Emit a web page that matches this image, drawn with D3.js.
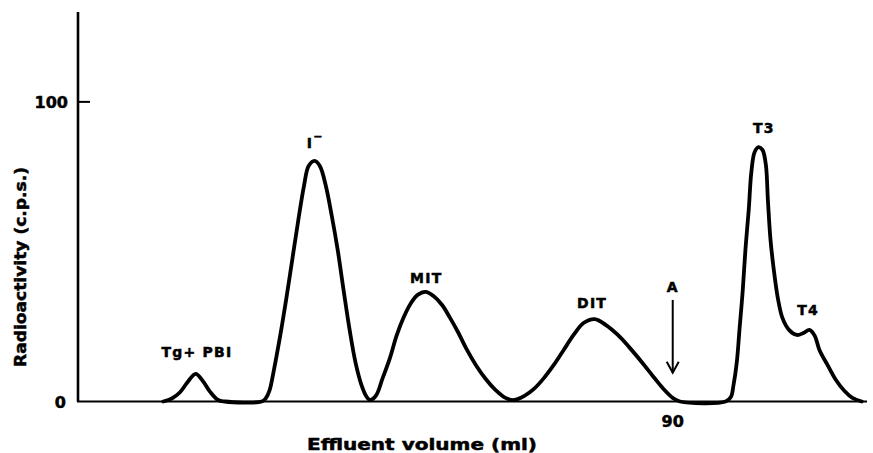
<!DOCTYPE html>
<html>
<head>
<meta charset="utf-8">
<script src="https://cdn.jsdelivr.net/npm/d3@7"></script>
<style>
  body { margin: 0; background: #fff; }
  text { font-family: "DejaVu Sans", sans-serif; font-weight: bold; fill: #000; stroke: #000; stroke-width: 0.5px; }
</style>
</head>
<body>
<div id="graph"></div>
<script>
// effluent volume (ml) and radioactivity (c.p.s.)
var volume = [
  12.9, 14.2, 15.4, 16.6, 17.8, 18.9, 20.0, 21.2, 22.2, 27.8,
  28.4, 29.0, 29.6, 30.6, 31.5, 32.4, 33.3, 34.2, 34.9, 35.8, 36.6, 37.5, 38.4, 39.3, 40.2, 41.1, 42.0, 42.9, 43.7, 44.2,
  45.1, 46.1, 47.2, 48.2, 49.3, 50.4, 51.4, 52.6, 53.8, 55.1, 56.3, 57.5, 58.7, 60.2, 61.7, 63.2, 64.7, 66.0,
  67.5, 69.0, 70.5, 72.0, 73.5, 75.0, 76.5, 78.2, 79.9, 81.7, 83.5, 85.3, 87.1, 88.6, 90.0, 91.1, 98.0,
  98.8, 99.2, 99.7, 100.1, 100.6, 101.0, 101.5, 101.9, 102.4, 103.0, 103.6, 104.1, 104.4, 104.8, 105.3, 105.9, 106.6, 107.6,
  108.8, 109.8, 110.7, 111.5, 112.2, 113.5, 114.7, 116.0, 117.2, 118.6
];
var counts = [
  0, 1.0, 3.0, 6.5, 9.2, 6.8, 3.2, 0.5, 0, 0,
  1.0, 3.8, 10, 22, 34, 47, 60, 72, 78.6, 80.3, 78.6, 72, 62, 50.6, 37, 24, 13, 5.5, 1.5, 0.5,
  2.0, 7.8, 14.5, 21.9, 28.2, 32.9, 35.6, 36.6, 35.2, 32.2, 27.9, 23.2, 17.9, 12.2, 7.5, 3.8, 1.2, 0.5,
  1.8, 4.2, 7.8, 12.2, 17.2, 22.2, 26.2, 27.5, 25.5, 22.2, 17.9, 13.2, 8.2, 4.2, 1.2, 0, 0,
  1.5, 5.5, 13.2, 23.9, 37.2, 50.6, 63.9, 76.6, 83.3, 84.9, 83.9, 78.9, 67.3, 53.9, 43.9, 34.6, 27.9, 23.9,
  22.2, 22.9, 23.9, 21.9, 17.2, 11.9, 7.2, 3.5, 1.2, 0
];

var yTicks = [0, 100];
var xTicks = [90];

// peak labels, anchored in data units
var peakNames = ["Tg+ PBI", "I", "MIT", "DIT", "A", "T3", "T4"];
var peakX = [18.0, 35.9, 52.7, 77.8, 90.0, 103.8, 110.5];
var peakY = [14.9, 84.6, 39.6, 31.2, 36.6, 89.6, 28.9];

var arrowX = 90;
var arrowFrom = 33.9;
var arrowTo = 9.6;

var width = 873;
var height = 453;

var x = d3.scaleLinear()
  .domain([0, 119.4])
  .range([78, 867]);

var y = d3.scaleLinear()
  .domain([0, 130])
  .range([401.5, 12]);

var svg = d3.select("#graph")
  .append("svg")
  .attr("width", width)
  .attr("height", height);

// axes
svg.append("line")
  .attr("x1", x(0)).attr("x2", x(0))
  .attr("y1", y(130)).attr("y2", y(0))
  .attr("stroke", "#000")
  .attr("stroke-width", 2.6);

svg.append("line")
  .attr("x1", x(0) - 1).attr("x2", x(119.4))
  .attr("y1", y(0)).attr("y2", y(0))
  .attr("stroke", "#000")
  .attr("stroke-width", 2.2);

svg.selectAll(".ytick")
  .data(yTicks.filter(d => d > 0))
  .enter().append("line")
  .attr("class", "ytick")
  .attr("x1", x(0)).attr("x2", x(0) + 12)
  .attr("y1", d => y(d)).attr("y2", d => y(d))
  .attr("stroke", "#000")
  .attr("stroke-width", 2);

svg.selectAll(".ylabel")
  .data(yTicks)
  .enter().append("text")
  .attr("class", "ylabel")
  .attr("x", d => d == 0 ? 66 : 68)
  .attr("y", d => y(d) + 6)
  .attr("text-anchor", "end")
  .style("font-size", "16px")
  .text(d => d);

svg.selectAll(".xlabel")
  .data(xTicks)
  .enter().append("text")
  .attr("class", "xlabel")
  .attr("x", d => x(d))
  .attr("y", 427)
  .attr("text-anchor", "middle")
  .style("font-size", "16px")
  .text(d => d);

svg.append("text")
  .attr("x", 307)
  .attr("y", 450)
  .attr("textLength", 230)
  .attr("lengthAdjust", "spacingAndGlyphs")
  .style("font-size", "16px")
  .text("Effluent volume (ml)");

svg.append("text")
  .attr("transform", "translate(26,367) rotate(-90)")
  .attr("textLength", 200)
  .attr("lengthAdjust", "spacingAndGlyphs")
  .style("font-size", "15px")
  .text("Radioactivity (c.p.s.)");

// the elution trace
var line = d3.line()
  .x((d, i) => x(volume[i]))
  .y(d => y(d))
  .curve(d3.curveCatmullRom.alpha(0.5));

svg.append("path")
  .datum(counts)
  .attr("d", line)
  .attr("fill", "none")
  .attr("stroke", "#000")
  .attr("stroke-width", 3.8)
  .attr("stroke-linejoin", "round")
  .attr("stroke-linecap", "round");

// peak labels
var labels = svg.selectAll(".peak")
  .data(peakNames)
  .enter().append("text")
  .attr("class", "peak")
  .attr("x", (d, i) => x(peakX[i]))
  .attr("y", (d, i) => y(peakY[i]))
  .attr("text-anchor", "middle")
  .style("font-size", "14px")
  .style("letter-spacing", "1.2px")
  .text(d => d);

labels.filter(d => d == "I")
  .append("tspan")
  .attr("dx", "0")
  .attr("dy", "-8")
  .style("font-size", "11px")
  .text("−");

// marker arrow at A
svg.append("line")
  .attr("x1", x(arrowX)).attr("x2", x(arrowX))
  .attr("y1", y(arrowFrom)).attr("y2", y(arrowTo))
  .attr("stroke", "#000")
  .attr("stroke-width", 2);

svg.append("path")
  .attr("d", "M" + (x(arrowX) - 6) + "," + (y(arrowTo) - 11) +
    "L" + x(arrowX) + "," + y(arrowTo) +
    "L" + (x(arrowX) + 6) + "," + (y(arrowTo) - 11))
  .attr("fill", "none")
  .attr("stroke", "#000")
  .attr("stroke-width", 2);
</script>
</body>
</html>
